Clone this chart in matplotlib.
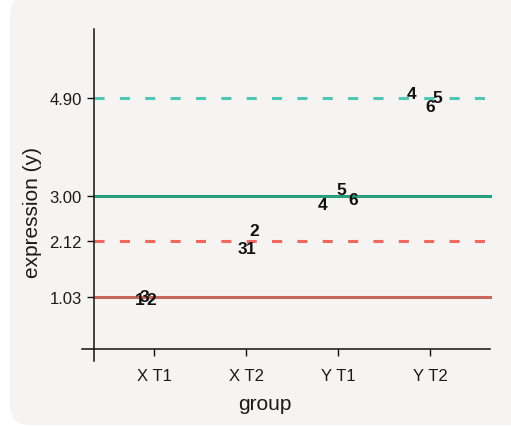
import matplotlib
matplotlib.use("Agg")
import matplotlib.pyplot as plt
from matplotlib.patches import FancyBboxPatch
from matplotlib.transforms import IdentityTransform

plt.rcParams['font.family'] = ['Liberation Sans', 'DejaVu Sans']

# ---- data ----
groups = ["X T1", "X T2", "Y T1", "Y T2"]
group_means = [1.03, 2.12, 3.00, 4.90]
mean_colors = ["#c4685c", "#f0695e", "#2b9d7f", "#50c6b4"]
mean_styles = ["solid", "dashed", "solid", "dashed"]

point_labels = ["1", "3", "2", "2", "3", "1", "4", "5", "6", "4", "6", "5"]
point_group = [0, 0, 0, 1, 1, 1, 2, 2, 2, 3, 3, 3]
point_jitter = [-0.16, -0.10, -0.03, 0.087, -0.04, 0.054, -0.17, 0.04, 0.163, -0.20, 0.0, 0.076]
point_values = [1.02, 1.06, 1.02, 2.36, 2.00, 2.00, 2.86, 3.15, 2.96, 5.01, 4.76, 4.94]

W, H, DPI = 511, 427, 100
fig = plt.figure(figsize=(W / DPI, H / DPI), dpi=DPI, facecolor="white")

# rounded background panel (pixel coords)
panel = FancyBboxPatch((10, 1), 530, 430, boxstyle="round,pad=0,rounding_size=20",
                       transform=IdentityTransform(), facecolor="#f5f4f2",
                       edgecolor="none", zorder=-10)
fig.patches.append(panel)

ax = fig.add_axes([82 / W, (H - 362) / H, 408 / W, 332 / H])
ax.set_facecolor("none")
ax.set_zorder(1)

xleft, xright = 0.2174, 4.652
ybot, ytop = -0.215, 6.244
ax.set_xlim(xleft, xright)
ax.set_ylim(ybot, ytop)

spine_x = 0.348
spine_y = 0.019

for s in ["top", "right"]:
    ax.spines[s].set_visible(False)
ax.spines["left"].set_position(("data", spine_x))
ax.spines["bottom"].set_position(("data", spine_y))
for s in ["left", "bottom"]:
    ax.spines[s].set_linewidth(1.1)
    ax.spines[s].set_color("#111111")

xs = list(range(1, len(groups) + 1))
for m, c, st in zip(group_means, mean_colors, mean_styles):
    if st == "dashed":
        ax.plot([spine_x, xright], [m, m], color=c, lw=2.2, dashes=(3.3, 5.0),
                solid_capstyle="butt", zorder=2, clip_on=False)
    else:
        ax.plot([spine_x, xright], [m, m], color=c, lw=2.2, zorder=2, clip_on=False)

for lab, g, j, v in zip(point_labels, point_group, point_jitter, point_values):
    ax.text(xs[g] + j, v, lab, ha="center", va="center_baseline", fontsize=12.5,
            fontweight="bold", color="#111111", zorder=3)

ax.set_xticks(xs)
ax.set_xticklabels(groups)
ax.set_yticks(group_means)
ax.set_yticklabels([f"{m:.2f}" for m in group_means])
ax.tick_params(axis="both", labelsize=12, length=5, width=1.0, color="#111111",
               labelcolor="#1a1a1a", pad=4)
ax.tick_params(axis="x", pad=9)

ax.set_xlabel("group", fontsize=15, color="#1a1a1a")
ax.set_ylabel("expression (y)", fontsize=15, color="#1a1a1a")
ax.xaxis.set_label_coords((265 - 82) / 408, (362 - 395) / 332)
ax.yaxis.set_label_coords((42 - 82) / 408, (362 - 212) / 332)

fig.savefig("out.png", dpi=DPI, facecolor="white")
